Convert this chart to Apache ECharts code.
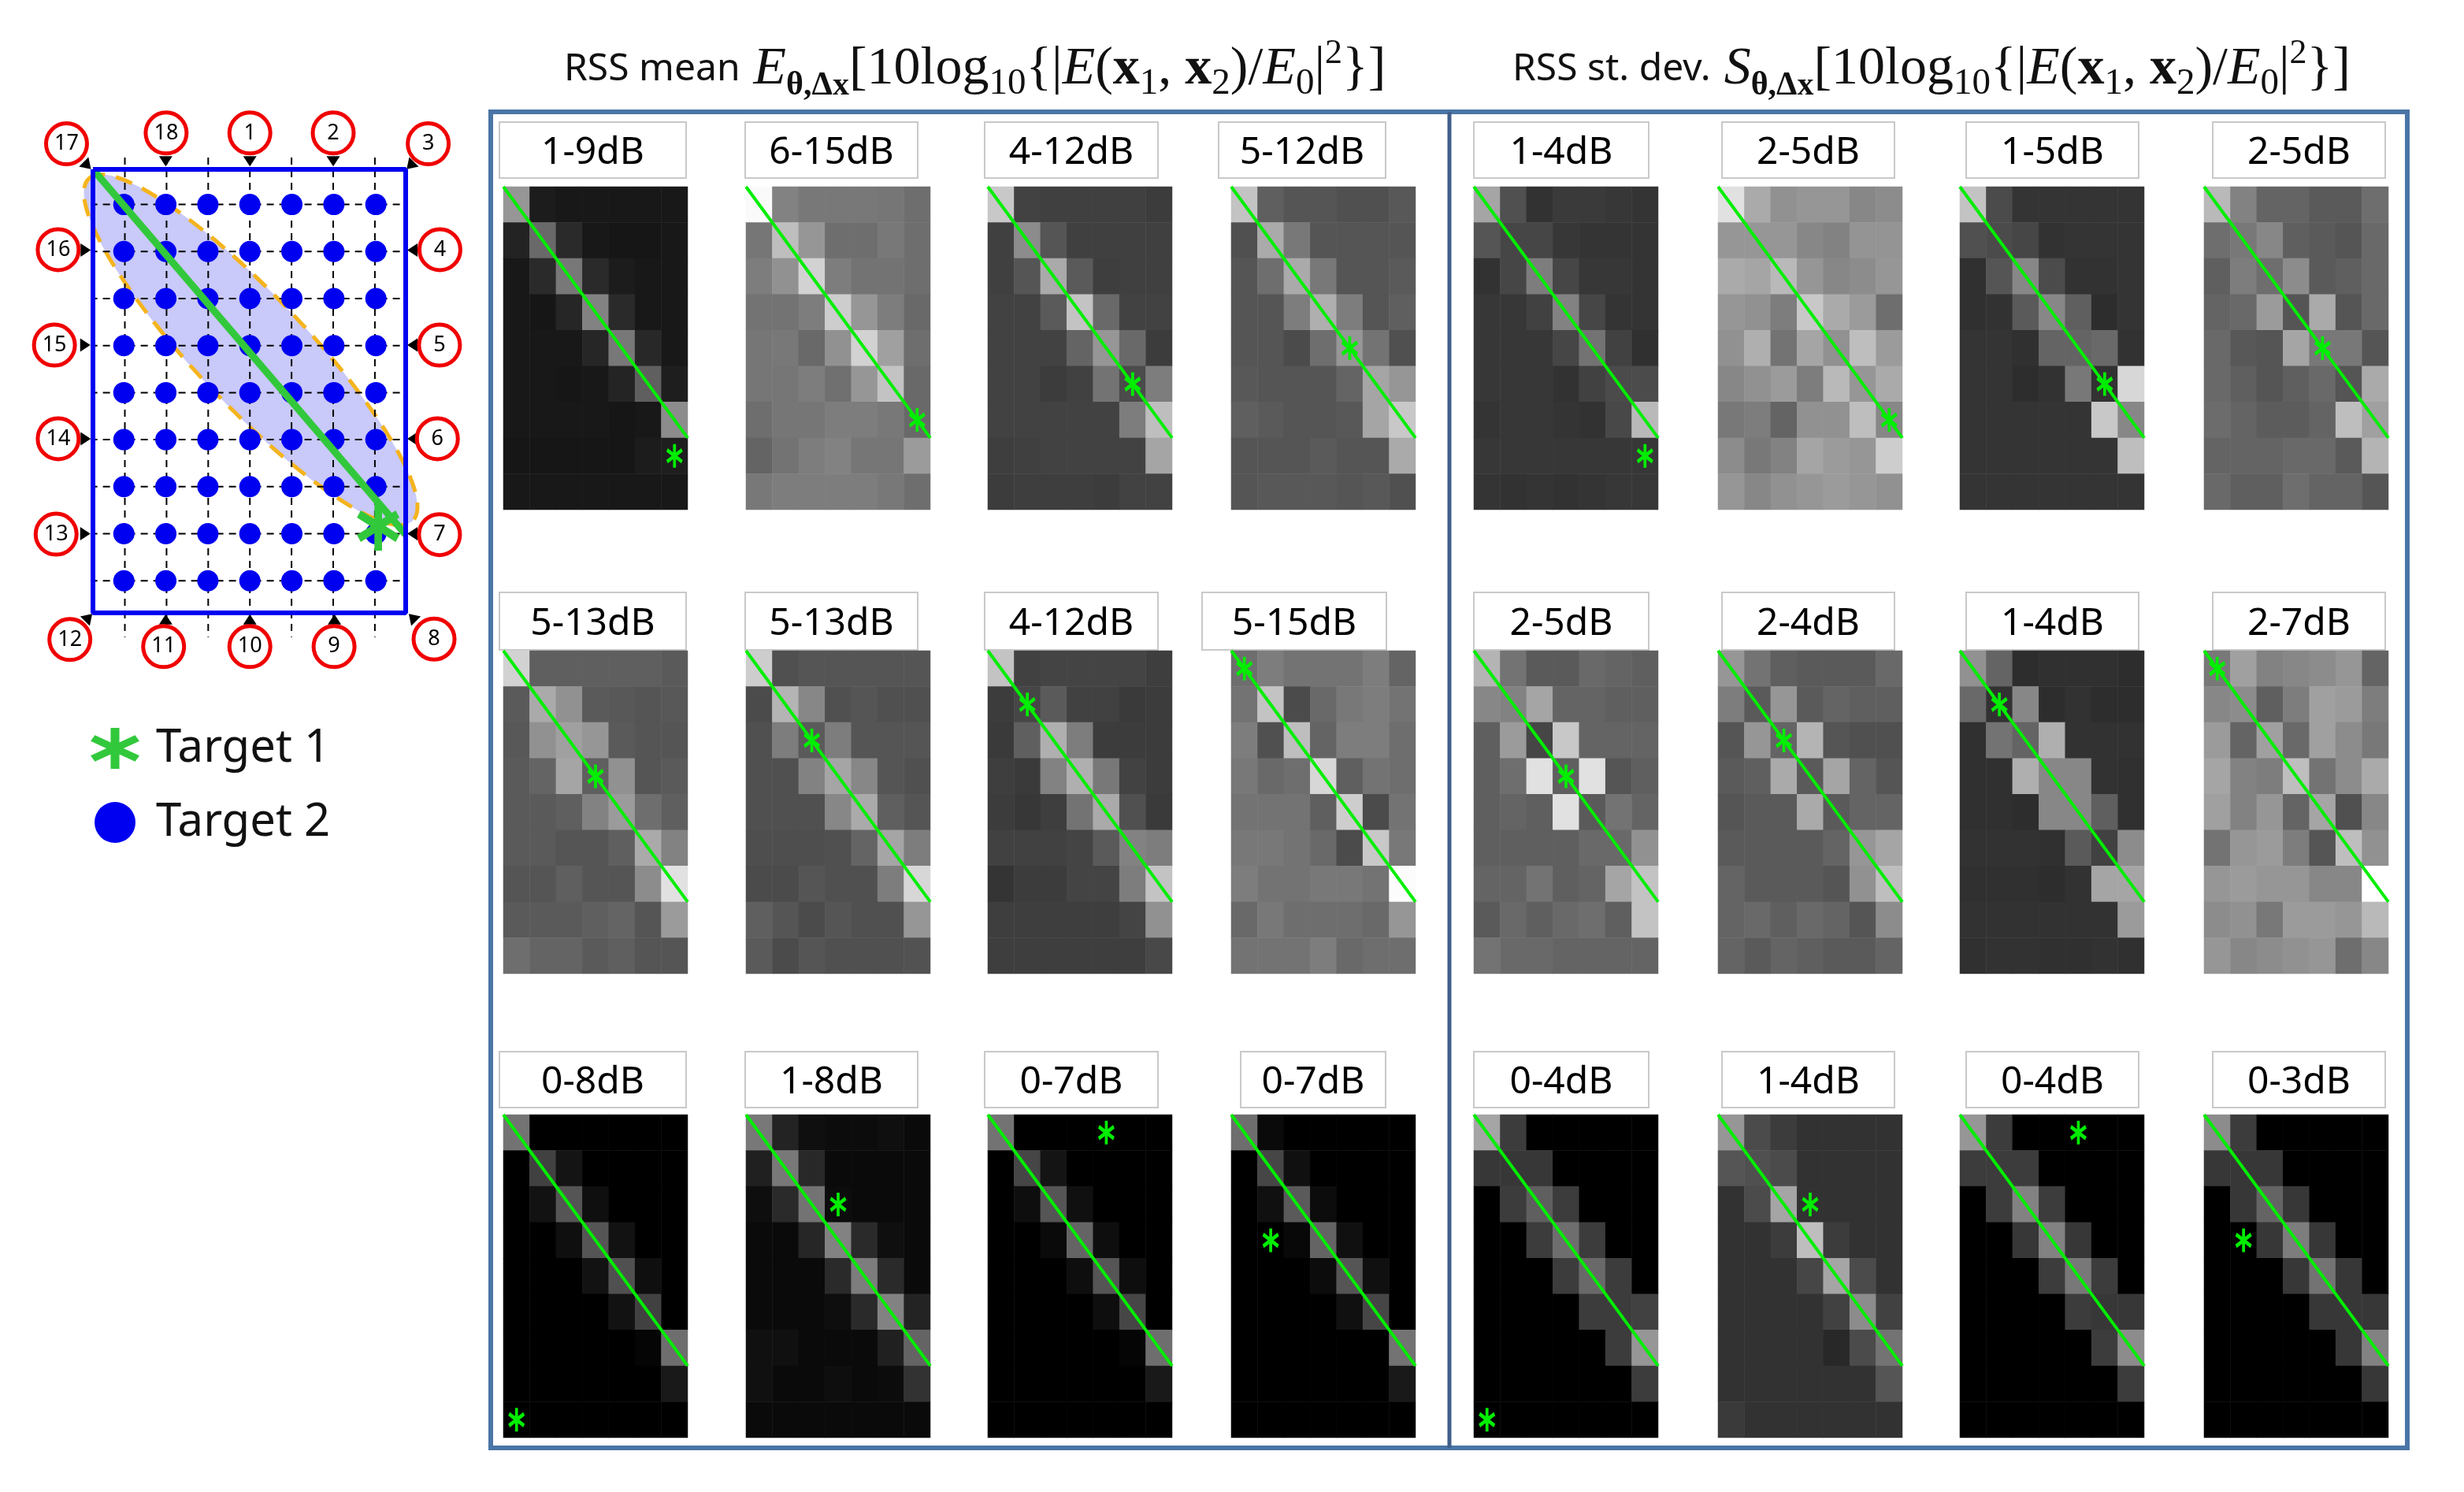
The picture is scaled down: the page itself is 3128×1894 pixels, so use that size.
<!DOCTYPE html>
<html lang="en">
<head>
  <meta charset="UTF-8">
  <title>RSS mean and standard deviation</title>
  <style>
    html, body { margin: 0; padding: 0; background: #fff; }
    #main { width: 3128px; height: 1894px; }
  </style>
</head>
<body>
<div id="main"></div>
<script src="https://cdn.jsdelivr.net/npm/echarts@6/dist/echarts.min.js"></script>
<script>
  // grey level of each cell (0 black - 255 white), 9 rows by 7 columns
  const mean1 = [
    [150,28,24,24,24,24,24],[35,105,42,24,22,22,24],[24,42,120,42,28,24,24],
    [24,22,38,130,42,24,24],[24,24,24,38,120,40,24],[24,24,22,24,36,95,30],
    [24,24,24,24,22,24,140],[22,22,22,22,22,28,30],[24,24,24,24,24,24,24]];
  const mean2 = [
    [250,130,120,120,120,118,110],[118,190,150,110,110,120,110],[125,145,210,125,115,115,110],
    [115,115,125,205,150,125,105],[118,120,105,145,210,160,110],[118,118,125,112,150,195,105],
    [110,118,118,125,125,120,105],[100,115,125,130,118,118,155],[120,125,125,125,125,120,110]];
  const mean3 = [
    [200,66,64,64,64,64,60],[64,140,85,64,64,64,64],[64,85,170,90,62,64,64],
    [66,66,90,195,105,66,66],[66,66,66,100,150,105,60],[66,66,60,65,115,75,125],
    [66,66,66,66,66,125,190],[62,64,66,66,66,66,165],[60,62,62,62,60,66,66]];
  const mean4 = [
    [195,95,85,85,80,80,88],[80,170,120,85,85,85,85],[85,110,170,120,85,85,90],
    [85,85,125,175,125,85,95],[85,85,75,110,150,115,80],[88,85,85,85,100,165,150],
    [95,90,85,85,88,165,200],[85,85,85,90,85,85,170],[85,88,88,88,85,88,80]];
  const mean5 = [
    [210,95,95,95,95,95,90],[90,170,145,90,88,85,88],[88,145,160,150,90,85,85],
    [90,100,165,95,145,85,90],[90,90,95,130,155,110,95],[90,90,85,85,95,170,130],
    [85,85,95,85,85,140,225],[90,90,90,95,100,85,155],[110,100,100,90,95,85,85]];
  const mean6 = [
    [205,80,85,85,85,85,85],[75,180,135,80,85,80,80],[80,125,90,125,85,85,85],
    [80,80,130,165,135,85,80],[80,80,80,135,170,95,85],[78,78,78,80,100,165,125],
    [75,75,85,80,80,125,215],[95,85,75,85,80,80,150],[90,75,85,80,80,80,82]];
  const mean7 = [
    [195,65,68,68,68,68,62],[60,70,90,65,65,58,60],[58,95,175,125,60,60,60],
    [62,58,130,175,120,66,60],[60,55,62,115,170,80,58],[65,65,65,68,90,130,125],
    [52,60,60,68,68,125,195],[62,62,62,62,62,68,145],[62,62,62,62,62,62,72]];
  const mean8 = [
    [110,125,115,115,115,125,100],[115,195,75,105,120,125,115],[125,80,190,100,125,125,110],
    [120,105,110,215,95,115,110],[115,115,115,95,205,75,115],[120,120,115,105,75,200,120],
    [125,115,115,120,120,115,252],[105,120,110,110,110,105,150],[115,115,115,125,105,110,110]];
  const mean9 = [
    [115,0,0,0,0,0,0],[0,65,20,0,0,0,0],[0,18,85,15,0,0,0],
    [0,0,15,85,18,0,0],[0,0,0,18,80,15,0],[0,0,0,0,18,65,0],
    [0,0,0,0,0,5,110],[0,0,0,0,0,0,25],[0,0,0,0,0,0,0]];
  const mean10 = [
    [120,35,15,12,12,15,10],[32,120,40,10,10,10,10],[14,42,115,12,10,10,10],
    [10,10,38,130,42,15,10],[10,10,10,42,125,42,10],[10,10,10,14,42,130,35],
    [16,16,10,10,10,32,100],[16,10,10,14,10,12,50],[10,10,10,10,10,10,10]];
  const mean11 = [
    [115,0,0,0,0,0,0],[0,70,20,0,0,0,0],[0,14,85,16,0,0,0],
    [0,0,10,100,14,0,0],[0,0,0,14,85,14,0],[0,0,0,0,14,70,0],
    [0,0,0,0,0,5,110],[0,0,0,0,0,0,25],[0,0,0,0,0,0,0]];
  const mean12 = [
    [110,10,0,0,0,0,0],[0,70,16,0,0,0,0],[0,16,90,12,0,0,0],
    [0,0,8,100,16,0,0],[0,0,0,12,85,16,0],[0,0,0,0,16,70,0],
    [0,0,0,0,0,0,115],[0,0,0,0,0,0,25],[0,0,0,0,0,0,0]];

  const dev1 = [
    [165,80,50,58,58,55,52],[85,70,70,55,52,52,52],[50,70,125,70,55,55,52],
    [55,55,65,130,70,52,52],[55,55,55,70,115,65,48],[55,55,55,50,65,75,75],
    [52,55,55,52,50,72,185],[55,55,55,55,55,55,55],[52,50,52,50,52,55,55]];
  const dev2 = [
    [225,170,145,150,150,135,140],[150,150,150,135,130,148,148],[170,165,185,150,135,140,150],
    [150,145,125,200,170,155,110],[145,175,115,165,145,190,155],[135,145,155,125,185,150,170],
    [120,125,100,145,145,190,135],[140,120,130,165,155,150,205],[150,135,145,150,155,150,145]];
  const dev3 = [
    [195,75,52,52,52,52,52],[80,75,70,50,52,52,52],[48,85,135,75,50,50,52],
    [48,50,90,135,95,45,52],[52,52,48,100,100,105,50],[52,52,45,50,120,50,215],
    [52,52,52,52,52,200,135],[52,52,52,52,52,52,190],[52,52,52,52,52,52,52]];
  const dev4 = [
    [185,130,100,100,90,90,110],[110,120,135,95,90,85,105],[95,125,110,140,90,95,105],
    [100,105,155,85,170,85,105],[105,88,85,165,120,120,85],[105,95,85,95,105,85,170],
    [108,100,92,92,100,190,160],[100,100,100,105,105,90,180],[105,95,95,110,100,100,85]];
  const dev5 = [
    [180,115,90,90,105,100,95],[135,130,165,100,100,95,95],[95,155,70,200,100,100,100],
    [95,110,225,95,225,85,95],[95,100,95,225,90,115,100],[95,95,95,95,105,105,145],
    [100,100,115,95,100,165,195],[90,105,95,105,110,95,195],[115,105,105,100,100,100,100]];
  const dev6 = [
    [150,115,95,90,90,90,105],[125,90,150,90,100,95,95],[85,150,100,180,85,80,80],
    [90,95,170,90,165,100,85],[85,90,90,170,90,100,100],[90,90,90,90,100,150,165],
    [100,90,90,90,85,145,190],[100,105,95,105,100,85,140],[100,90,100,95,90,90,100]];
  const dev7 = [
    [145,100,45,48,48,48,45],[105,50,135,45,50,45,45],[48,115,100,175,50,50,50],
    [48,48,175,135,135,50,48],[48,48,45,135,135,95,48],[50,50,50,48,90,65,140],
    [48,48,48,45,50,165,165],[50,50,50,50,50,50,155],[48,50,50,48,48,50,48]];
  const dev8 = [
    [120,160,130,135,140,150,100],[135,140,95,125,160,155,125],[155,100,160,105,160,140,120],
    [165,130,125,190,115,140,170],[160,130,150,100,165,80,135],[115,150,155,125,85,190,145],
    [150,155,150,150,135,135,255],[140,145,120,155,155,150,185],[150,135,140,145,150,110,135]];
  const dev9 = [
    [165,60,0,0,0,0,0],[55,55,55,0,0,0,0],[0,60,95,60,0,0,0],
    [0,0,60,110,60,0,0],[0,0,0,60,105,60,0],[0,0,0,0,60,60,65],
    [0,0,0,0,0,60,150],[0,0,0,0,0,0,60],[0,0,0,0,0,0,0]];
  const dev10 = [
    [150,75,60,50,50,50,50],[85,80,75,50,50,50,50],[50,75,165,50,50,50,50],
    [50,50,60,190,60,50,50],[50,50,50,70,165,75,50],[50,50,50,50,65,140,65],
    [50,50,50,50,40,75,115],[50,50,50,50,50,50,85],[58,50,50,50,50,50,50]];
  const dev11 = [
    [150,60,0,0,0,0,0],[60,60,60,0,0,0,0],[0,60,130,60,0,0,0],
    [0,0,55,130,55,0,0],[0,0,0,60,120,60,0],[0,0,0,0,60,55,55],
    [0,0,0,0,0,60,140],[0,0,0,0,0,0,60],[0,0,0,0,0,0,0]];
  const dev12 = [
    [140,60,0,0,0,0,0],[55,55,55,0,0,0,0],[0,55,100,55,0,0,0],
    [0,0,55,125,55,0,0],[0,0,0,55,115,55,0],[0,0,0,0,55,55,55],
    [0,0,0,0,0,55,130],[0,0,0,0,0,0,55],[0,0,0,0,0,0,0]];

  const meanCells = [mean1,mean2,mean3,mean4,mean5,mean6,mean7,mean8,mean9,mean10,mean11,mean12];
  const devCells = [dev1,dev2,dev3,dev4,dev5,dev6,dev7,dev8,dev9,dev10,dev11,dev12];
  const meanRanges = ['1-9dB','6-15dB','4-12dB','5-12dB','5-13dB','5-13dB','4-12dB','5-15dB','0-8dB','1-8dB','0-7dB','0-7dB'];
  const devRanges = ['1-4dB','2-5dB','1-5dB','2-5dB','2-5dB','2-4dB','1-4dB','2-7dB','0-4dB','1-4dB','0-4dB','0-3dB'];
  // cell holding target 1 in each panel
  const starCol = [6,6,5,4,3,2,1,0,0,3,4,1];
  const starRow = [7,6,5,4,3,2,1,0,8,2,0,3];

  // left diagram, in units of the dashed grid
  const gridX = [1,2,3,4,5,6,7];
  const gridY = [1,2,3,4,5,6,7,8,9];
  const sensorNames = ['1','2','3','4','5','6','7','8','9','10','11','12','13','14','15','16','17','18'];
  const sensorX = [4,6,8.28,8.56,8.55,8.5,8.55,8.42,6.02,4,1.93,-0.32,-0.65,-0.6,-0.69,-0.6,-0.4,1.99];
  const sensorY = [-0.52,-0.52,-0.29,1.96,3.99,5.98,8.02,10.24,10.4,10.4,10.4,10.25,8.01,5.98,3.99,1.96,-0.29,-0.52];
  const antennaX = [4,6,7.85,7.9,7.9,7.9,7.9,7.9,6.03,4,1.98,0.13,0.05,0.06,0.05,0.06,0.1,1.98];
  const antennaY = [0.08,0.08,0.17,1.97,3.99,5.98,8.0,9.78,9.82,9.82,9.82,9.78,8.0,5.98,3.99,1.97,0.17,0.08];
  const antennaTurn = [180,180,135,90,90,90,90,45,0,0,0,-45,-90,-90,-90,-90,-135,180];
  const target1 = [7.08,7.84];
  const coverageCentre = [4.02,4.09];

  // layout in pixels
  const meanLefts = [639,947,1254,1563];
  const devLefts = [1871,2181,2488,2798];
  const panelTops = [237,826,1415];
  const panelH = 410, panelW = 234;
  const boxTops = [155,752,1335];
  const boxHeights = [71,73,71];
  const meanBoxes = [[634,237],[946,219],[1250,220],[1547,212],[634,237],[946,219],[1250,220],[1526,234],[634,237],[946,219],[1250,220],[1575,184]];
  const devBoxes = [[1871,222],[2186,219],[2496,219],[2809,219]];

  function asterisk(w) {
    const c = 0.5, s = 0.866;
    const bar = (k) => {
      const pt = (x, y) => (x * c - k * y * s).toFixed(3) + ' ' + (k * x * s + y * c).toFixed(3);
      return 'M' + pt(-w, -1) + ' L' + pt(w, -1) + ' L' + pt(w, 1) + ' L' + pt(-w, 1) + ' Z ';
    };
    return 'path://M' + (-w) + ' -1 L' + w + ' -1 L' + w + ' 1 L' + (-w) + ' 1 Z ' + bar(1) + bar(-1);
  }
  const thinStar = asterisk(0.17);
  const thickStar = asterisk(0.17);

  const grids = [], xAxes = [], yAxes = [], series = [], overlays = [], titles = [], boxes = [];

  function addPanel(cells, left, top, col, row) {
    const g = grids.length;
    grids.push({ left: left, top: top, width: panelW, height: panelH });
    xAxes.push({ type: 'category', gridIndex: g, show: false, data: [0,1,2,3,4,5,6] });
    yAxes.push({ type: 'category', gridIndex: g, show: false, inverse: true, data: [0,1,2,3,4,5,6,7,8] });
    xAxes.push({ type: 'value', gridIndex: g, show: false, min: 0, max: 7 });
    yAxes.push({ type: 'value', gridIndex: g, show: false, min: 0, max: 9, inverse: true });
    const data = [];
    cells.forEach((line, r) => line.forEach((v, c) => data.push([c, r, v])));
    series.push({ type: 'heatmap', xAxisIndex: 2 * g, yAxisIndex: 2 * g, data: data, progressive: 0 });
    overlays.push({
      type: 'line', xAxisIndex: 2 * g + 1, yAxisIndex: 2 * g + 1, showSymbol: false, clip: false, z: 3,
      lineStyle: { color: '#00ee00', width: 4 }, data: [[0, 0], [7, 7]]
    });
    overlays.push({
      type: 'scatter', xAxisIndex: 2 * g + 1, yAxisIndex: 2 * g + 1, z: 4,
      symbol: thinStar, symbolSize: [21, 30], itemStyle: { color: '#00ee00', opacity: 1 },
      data: [[col + 0.5, row + 0.5]]
    });
  }

  function addLabel(text, box, top, h) {
    boxes.push({
      type: 'rect', silent: true, z: 0,
      shape: { x: box[0], y: top, width: box[1], height: h },
      style: { fill: '#fff', stroke: '#c9c9c9', lineWidth: 2 }
    });
    titles.push({
      text: text, padding: 0, left: box[0] + box[1] / 2, top: top + h / 2 + 4,
      textAlign: 'center', textVerticalAlign: 'middle',
      textStyle: { fontFamily: 'Noto Sans', fontSize: 48, fontWeight: 'normal', color: '#000' }
    });
  }

  for (let i = 0; i < 12; i++) {
    const r = Math.floor(i / 4), c = i % 4;
    addPanel(meanCells[i], meanLefts[c], panelTops[r], starCol[i], starRow[i]);
    addLabel(meanRanges[i], meanBoxes[i], boxTops[r], boxHeights[r]);
  }
  for (let i = 0; i < 12; i++) {
    const r = Math.floor(i / 4), c = i % 4;
    addPanel(devCells[i], devLefts[c], panelTops[r], starCol[i], starRow[i]);
    addLabel(devRanges[i], devBoxes[c], boxTops[r], boxHeights[r]);
  }

  const heatmapIndexes = series.map((s, i) => i);
  series.push(...overlays);

  // diagram grid, its frame is the blue rectangle
  const dg = grids.length;
  const x0 = 0.234, x1 = 7.739, y0 = 0.253, y1 = 9.683;
  grids.push({ left: 118, top: 215, width: 397, height: 563 });
  xAxes.push({ type: 'value', gridIndex: dg, show: false, min: x0, max: x1 });
  yAxes.push({ type: 'value', gridIndex: dg, show: false, min: y0, max: y1, inverse: true });
  const onDiagram = { xAxisIndex: xAxes.length - 1, yAxisIndex: yAxes.length - 1 };

  series.push(Object.assign({
    type: 'custom', clip: false, z: 2, silent: true,
    data: [coverageCentre],
    renderItem: (params, api) => {
      const p = api.coord([api.value(0), api.value(1)]);
      return {
        type: 'ellipse', x: p[0], y: p[1], rotation: -0.813,
        shape: { cx: 0, cy: 0, rx: 299, ry: 70 },
        style: { fill: '#c9c9fa', stroke: '#f5b41e', lineWidth: 5, lineDash: [22, 14] }
      };
    }
  }, onDiagram));

  const dashed = { color: '#000', width: 2, type: [9, 7] };
  gridX.forEach(x => series.push(Object.assign({
    type: 'line', showSymbol: false, clip: false, z: 3, lineStyle: dashed, data: [[x, -0.0], [x, 10.2]]
  }, onDiagram)));
  gridY.forEach(y => series.push(Object.assign({
    type: 'line', showSymbol: false, clip: false, z: 3, lineStyle: dashed, data: [[0.17, y], [8.13, y]]
  }, onDiagram)));

  const dots = [];
  gridY.forEach(y => gridX.forEach(x => dots.push([x + (x - 4) * 0.008, y])));
  series.push(Object.assign({
    name: 'Target 2', type: 'scatter', z: 4, clip: false, symbol: 'circle', symbolSize: 27,
    itemStyle: { color: '#0000f0', opacity: 1 }, data: dots
  }, onDiagram));

  series.push(Object.assign({
    type: 'line', showSymbol: false, clip: false, z: 5,
    lineStyle: { color: '#32c83c', width: 9 }, data: [[x0, y0], [7.74, 8.02]]
  }, onDiagram));
  series.push(Object.assign({
    name: 'Target 1', type: 'scatter', z: 6, clip: false, symbol: thickStar, symbolSize: [54, 62],
    itemStyle: { color: '#32c83c', opacity: 1 }, data: [target1]
  }, onDiagram));
  series.push(Object.assign({
    type: 'line', showSymbol: false, clip: false, z: 7,
    lineStyle: { color: '#0000f0', width: 6 },
    data: [[x0, y0], [x1, y0], [x1, y1], [x0, y1], [x0, y0]]
  }, onDiagram));
  series.push(Object.assign({
    type: 'scatter', z: 5, clip: false, symbol: 'triangle', symbolSize: [17, 13],
    itemStyle: { color: '#000', opacity: 1 },
    data: antennaX.map((x, i) => ({ value: [x, antennaY[i]], symbolRotate: antennaTurn[i] }))
  }, onDiagram));
  series.push(Object.assign({
    type: 'scatter', z: 8, clip: false, symbol: 'circle', symbolSize: 52,
    itemStyle: { color: '#fff', borderColor: '#f00000', borderWidth: 5, opacity: 1 },
    label: { show: true, position: 'inside', color: '#000', fontFamily: 'Noto Sans', fontSize: 27,
      formatter: p => sensorNames[p.dataIndex] },
    data: sensorX.map((x, i) => [x, sensorY[i]])
  }, onDiagram));

  // the two headings, mixed fonts through rich text
  const mathFont = 'Liberation Serif';
  const rich = {
    t: { fontFamily: 'Noto Sans', fontSize: 48, color: '#111', lineHeight: 84, verticalAlign: 'middle' },
    i: { fontFamily: mathFont, fontStyle: 'italic', fontSize: 68, color: '#111', lineHeight: 84 },
    s: { fontFamily: mathFont, fontSize: 47, color: '#111', lineHeight: 72, verticalAlign: 'bottom' },
    si: { fontFamily: mathFont, fontWeight: 'bold', fontSize: 42, color: '#111', lineHeight: 72, verticalAlign: 'bottom' },
    b: { fontFamily: mathFont, fontWeight: 'bold', fontSize: 68, color: '#111', lineHeight: 84 },
    u: { fontFamily: mathFont, fontSize: 44, color: '#111', lineHeight: 84, verticalAlign: 'top' }
  };
  const formula = '[10log{s|10}{|{i|E}({b|x}{s|1}, {b|x}{s|2})/{i|E}{s|0}|{u|2}}]';
  function heading(text, sym, left) {
    return {
      text: '{t|' + text + '} {i|' + sym + '}{si|θ,Δx}' + formula,
      padding: 0, left: left, top: 46,
      textStyle: { rich: rich, fontFamily: mathFont, fontSize: 68, fontWeight: 'normal', color: '#111', lineHeight: 84 }
    };
  }
  titles.push(heading('RSS mean', 'E', 716));
  titles.push(heading('RSS st. dev.', 'S', 1920));

  const frameColor = '#4a75a6';
  const chart = echarts.init(document.getElementById('main'), null, { renderer: 'canvas' });
  chart.setOption({
    animation: false,
    backgroundColor: '#fff',
    title: titles,
    grid: grids,
    xAxis: xAxes,
    yAxis: yAxes,
    tooltip: { show: false },
    legend: {
      orient: 'vertical', left: 110, top: 916, itemWidth: 62, itemHeight: 52, itemGap: 36,
      symbolKeepAspect: false, selectedMode: false,
      textStyle: { fontFamily: 'Noto Sans', fontSize: 58, color: '#111', padding: [0, 0, 0, 16] },
      data: [{ name: 'Target 1', icon: thickStar }, { name: 'Target 2', icon: 'circle' }]
    },
    visualMap: {
      type: 'continuous', show: false, min: 0, max: 255, dimension: 2,
      seriesIndex: heatmapIndexes, inRange: { color: ['#000000', '#ffffff'] }
    },
    graphic: [
      { type: 'rect', silent: true, z: 0, shape: { x: 623, y: 142, width: 2433, height: 1696 },
        style: { fill: 'none', stroke: frameColor, lineWidth: 6 } },
      { type: 'line', silent: true, z: 0, shape: { x1: 1840, y1: 142, x2: 1840, y2: 1838 },
        style: { stroke: '#3f5f8a', lineWidth: 5 } }
    ].concat(boxes),
    series: series
  });
</script>
</body>
</html>
